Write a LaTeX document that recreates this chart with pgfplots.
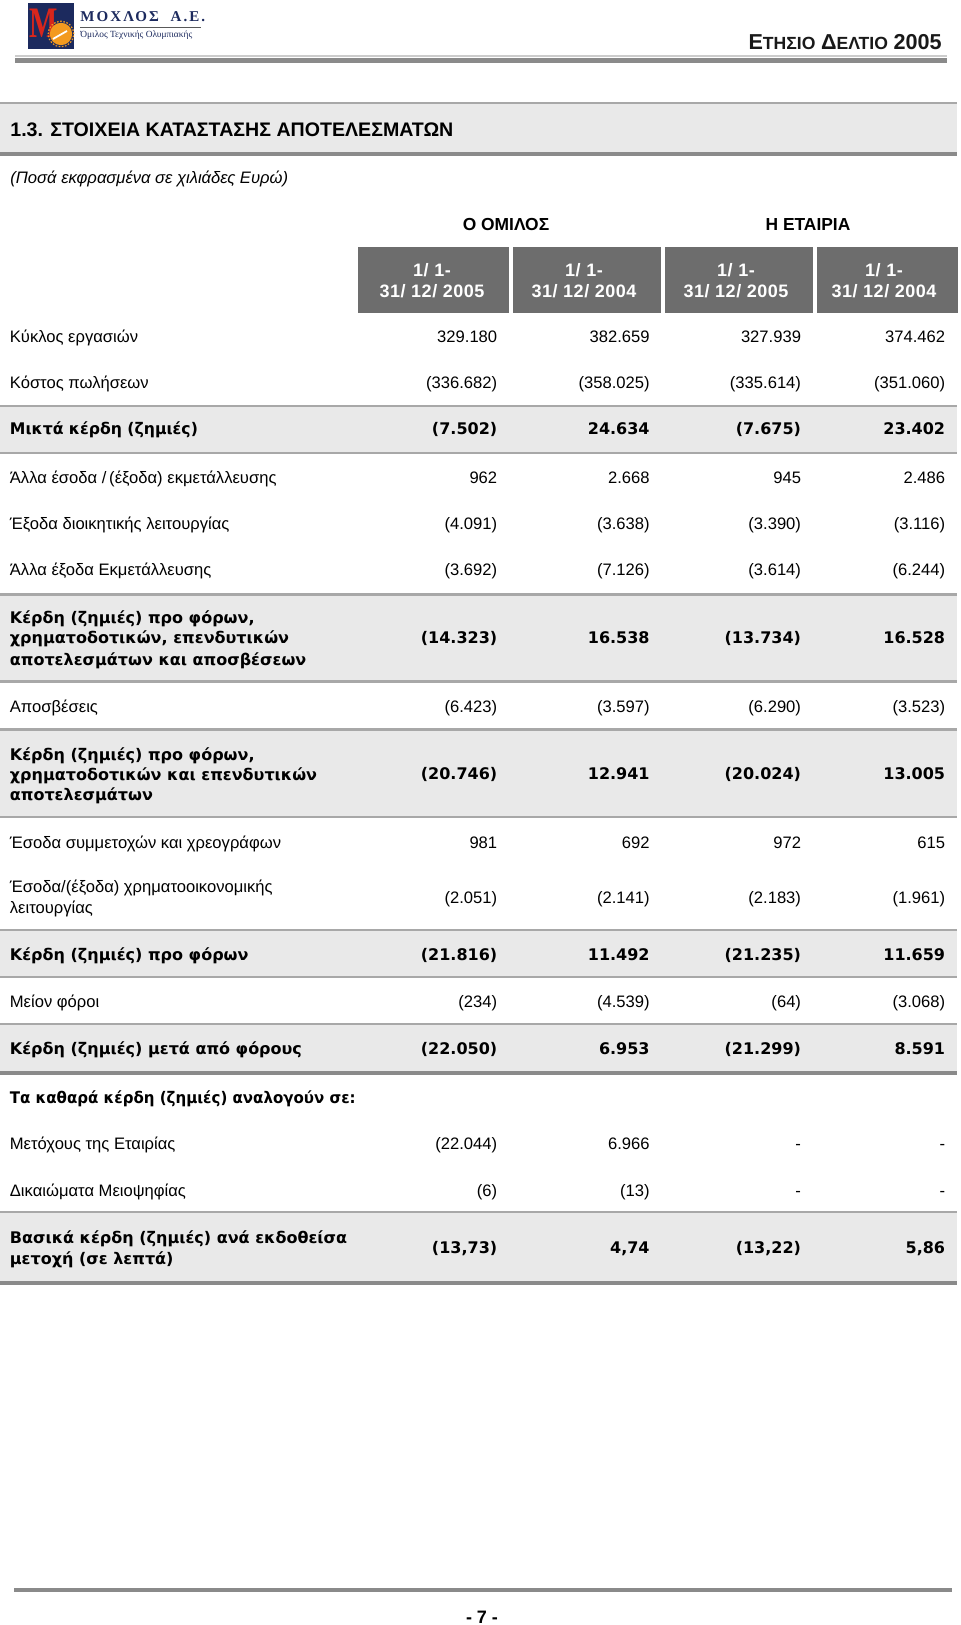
\documentclass[border=0pt]{standalone}
\usepackage{fontspec}
\usepackage{graphicx}
\usepackage{pgfplots}
\usepackage{pgfplotstable}
\pgfplotsset{compat=1.18}
\setmainfont{Liberation Sans}
\newfontfamily\dv{DejaVu Sans}
\newfontfamily\lserif{Liberation Serif}
\newcommand\fs[1]{\fontsize{#1}{#1}\selectfont}
\definecolor{band}{HTML}{E9E9E9}
\definecolor{boxg}{HTML}{6D6D6D}
\definecolor{linel}{HTML}{A8A8A8}
\definecolor{lined}{HTML}{8A8A8A}
\definecolor{navy}{HTML}{1C2A5E}
\definecolor{logored}{HTML}{D8261C}
\definecolor{sun}{HTML}{F39A1F}

\pgfplotstableread{
x y label
497.6 343 329.180
650 343 382.659
801.4 343 327.939
945.5 343 374.462
497.6 388.5 (336.682)
650 388.5 (358.025)
801.4 388.5 (335.614)
945.5 388.5 (351.060)
497.6 484 962
650 484 2.668
801.4 484 945
945.5 484 2.486
497.6 529.5 (4.091)
650 529.5 (3.638)
801.4 529.5 (3.390)
945.5 529.5 (3.116)
497.6 575 (3.692)
650 575 (7.126)
801.4 575 (3.614)
945.5 575 (6.244)
497.6 712 (6.423)
650 712 (3.597)
801.4 712 (6.290)
945.5 712 (3.523)
497.6 848 981
650 848 692
801.4 848 972
945.5 848 615
497.6 903 (2.051)
650 903 (2.141)
801.4 903 (2.183)
945.5 903 (1.961)
497.6 1007.5 (234)
650 1007.5 (4.539)
801.4 1007.5 (64)
945.5 1007.5 (3.068)
497.6 1149.5 (22.044)
650 1149.5 6.966
801.4 1149.5 -
945.5 1149.5 -
497.6 1196 (6)
650 1196 (13)
801.4 1196 -
945.5 1196 -
}\regnums

\pgfplotstableread{
x y label
497.6 435 (7.502)
650 435 24.634
801.4 435 (7.675)
945.5 435 23.402
497.6 643 (14.323)
650 643 16.538
801.4 643 (13.734)
945.5 643 16.528
497.6 779.5 (20.746)
650 779.5 12.941
801.4 779.5 (20.024)
945.5 779.5 13.005
497.6 960 (21.816)
650 960 11.492
801.4 960 (21.235)
945.5 960 11.659
497.6 1054 (22.050)
650 1054 6.953
801.4 1054 (21.299)
945.5 1054 8.591
497.6 1253 (13,73)
650 1253 4,74
801.4 1253 (13,22)
945.5 1253 5,86
}\boldnums

\tikzset{
  lab/.style={anchor=base west, inner sep=0pt, font=\fs{8.3}},
  blab/.style={anchor=base west, inner sep=0pt, font=\dv\bfseries\fs{8}},
  hdr/.style={anchor=base, inner sep=0pt, text=white, font=\bfseries\fs{9}\addfontfeatures{LetterSpace=3}}
}
\newcommand\hrect[4]{\fill[#4] (axis cs:#1,#2) rectangle (axis cs:957,#3);}

\begin{document}
\begin{tikzpicture}
\begin{axis}[width=480pt, height=812.5pt, scale only axis,
  xmin=0, xmax=960, ymin=0, ymax=1625, y dir=reverse,
  hide axis, clip=false]
% background / bounding box
\fill[white] (axis cs:0,0) rectangle (axis cs:960,1625);

% ---- logo ----
\fill[navy] (axis cs:28,3) rectangle (axis cs:74,49);
\node[anchor=base west, inner sep=0pt, text=logored, font=\lserif\bfseries\fs{15}]
  at (axis cs:29,38) {\scalebox{1}[1.45]{M}};
\fill[sun] (axis cs:61,34) circle[radius=5.6pt];
\draw[sun, line width=0.6pt, dash pattern=on 0.8pt off 0.8pt] (axis cs:61,34) circle[radius=6.4pt];
\draw[white, line width=0.9pt] (axis cs:53,39) -- (axis cs:67,31);
\node[anchor=base west, inner sep=0pt, text=navy, font=\lserif\bfseries\fs{7.5}\addfontfeatures{LetterSpace=14}]
  at (axis cs:80,22) {ΜΟΧΛΟΣ \ Α.Ε.};
\draw[gray!70!black, line width=0.5pt] (axis cs:80,27.5) -- (axis cs:201,27.5);
\node[anchor=base west, inner sep=0pt, text=navy, font=\lserif\fs{4.7}]
  at (axis cs:80,38) {Όμιλος Τεχνικής Ολυμπιακής};

% ---- header right ----
\node[anchor=base east, inner sep=0pt, text=black!90, font=\bfseries]
  at (axis cs:942,50) {{\fs{10.8}Ε}{\fs{8.8}ΤΗΣΙΟ} {\fs{10.8}Δ}{\fs{8.8}ΕΛΤΙΟ} {\fs{10.8}2005}};
\fill[black!20] (axis cs:15,55.5) rectangle (axis cs:947,57);
\fill[lined] (axis cs:15,58) rectangle (axis cs:947,63);

% ---- title band ----
\hrect{0}{103}{153}{band}
\hrect{0}{102.5}{104}{linel}
\hrect{0}{152}{156}{lined}
\node[anchor=base west, inner sep=0pt, font=\bfseries\fs{9.8}]
  at (axis cs:10,137) {1.3. ΣΤΟΙΧΕΙΑ ΚΑΤΑΣΤΑΣΗΣ ΑΠΟΤΕΛΕΣΜΑΤΩΝ};
\node[anchor=base west, inner sep=0pt, font=\itshape\fs{8.3}]
  at (axis cs:10,184) {(Ποσά εκφρασμένα σε χιλιάδες Ευρώ)};

% ---- column headers ----
\node[anchor=base, inner sep=0pt, font=\bfseries\fs{8.7}] at (axis cs:506,231) {Ο ΟΜΙΛΟΣ};
\node[anchor=base, inner sep=0pt, font=\bfseries\fs{8.7}] at (axis cs:808,231) {Η ΕΤΑΙΡΙΑ};
\fill[boxg] (axis cs:358,247) rectangle (axis cs:509,313);
\fill[boxg] (axis cs:513,247) rectangle (axis cs:661,313);
\fill[boxg] (axis cs:665,247) rectangle (axis cs:813,313);
\fill[boxg] (axis cs:817,247) rectangle (axis cs:958,313);
\node[hdr] at (axis cs:432,277) {1/ 1-};
\node[hdr] at (axis cs:432,297.5) {31/ 12/ 2005};
\node[hdr] at (axis cs:584,277) {1/ 1-};
\node[hdr] at (axis cs:584,297.5) {31/ 12/ 2004};
\node[hdr] at (axis cs:736,277) {1/ 1-};
\node[hdr] at (axis cs:736,297.5) {31/ 12/ 2005};
\node[hdr] at (axis cs:884,277) {1/ 1-};
\node[hdr] at (axis cs:884,297.5) {31/ 12/ 2004};

% ---- shaded bands and rules ----
\hrect{0}{406}{453}{band}
\hrect{0}{405}{407}{linel}
\hrect{0}{452}{454}{linel}
\hrect{0}{594}{681}{band}
\hrect{0}{593}{595.5}{linel}
\hrect{0}{680}{682.5}{linel}
\hrect{0}{729}{817}{band}
\hrect{0}{728}{730.5}{linel}
\hrect{0}{815.5}{818}{linel}
\hrect{0}{930}{977}{band}
\hrect{0}{928.5}{930.5}{linel}
\hrect{0}{975.5}{977.5}{linel}
\hrect{0}{1024}{1073}{band}
\hrect{0}{1022.5}{1024.5}{linel}
\hrect{0}{1071}{1075}{lined}
\hrect{0}{1212}{1282}{band}
\hrect{0}{1210.5}{1212.5}{linel}
\hrect{0}{1281}{1285}{lined}

% ---- row labels ----
\node[lab] at (axis cs:9.5,343) {Κύκλος εργασιών};
\node[lab] at (axis cs:9.5,388.5) {Κόστος πωλήσεων};
\node[blab] at (axis cs:9.5,435) {\scalebox{0.98}[1]{Μικτά κέρδη (ζημιές)}};
\node[lab] at (axis cs:9.5,484) {Άλλα έσοδα /\,(έξοδα) εκμετάλλευσης};
\node[lab] at (axis cs:9.5,529.5) {Έξοδα διοικητικής λειτουργίας};
\node[lab] at (axis cs:9.5,575) {Άλλα έξοδα Εκμετάλλευσης};
\node[blab] at (axis cs:9.5,623) {Κέρδη (ζημιές) προ φόρων,};
\node[blab] at (axis cs:9.5,643.5) {χρηματοδοτικών, επενδυτικών};
\node[blab] at (axis cs:9.5,665) {αποτελεσμάτων και αποσβέσεων};
\node[lab] at (axis cs:9.5,712) {Αποσβέσεις};
\node[blab] at (axis cs:9.5,760) {Κέρδη (ζημιές) προ φόρων,};
\node[blab] at (axis cs:9.5,780) {χρηματοδοτικών και επενδυτικών};
\node[blab] at (axis cs:9.5,800) {αποτελεσμάτων};
\node[lab] at (axis cs:9.5,848) {Έσοδα συμμετοχών και χρεογράφων};
\node[lab] at (axis cs:9.5,892) {Έσοδα/(έξοδα) χρηματοοικονομικής};
\node[lab] at (axis cs:9.5,913) {λειτουργίας};
\node[blab] at (axis cs:9.5,960) {Κέρδη (ζημιές) προ φόρων};
\node[lab] at (axis cs:9.5,1007.5) {Μείον φόροι};
\node[blab] at (axis cs:9.5,1054) {Κέρδη (ζημιές) μετά από φόρους};
\node[blab] at (axis cs:9.5,1103) {\scalebox{0.94}[1]{Τα καθαρά κέρδη (ζημιές) αναλογούν σε:}};
\node[lab] at (axis cs:9.5,1149.5) {Μετόχους της Εταιρίας};
\node[lab] at (axis cs:9.5,1196) {Δικαιώματα Μειοψηφίας};
\node[blab] at (axis cs:9.5,1243) {Βασικά κέρδη (ζημιές) ανά εκδοθείσα};
\node[blab] at (axis cs:9.5,1264) {μετοχή (σε λεπτά)};

% ---- numbers ----
\addplot[draw=none, mark=none, forget plot, nodes near coords, point meta=explicit symbolic,
  nodes near coords style={anchor=base east, inner sep=0pt, font=\fs{8.3}}]
  table[x=x, y=y, meta=label] {\regnums};
\addplot[draw=none, mark=none, forget plot, nodes near coords, point meta=explicit symbolic,
  nodes near coords style={anchor=base east, inner sep=0pt, font=\dv\bfseries\fs{8}}]
  table[x=x, y=y, meta=label] {\boldnums};

% ---- footer ----
\fill[lined] (axis cs:14,1588) rectangle (axis cs:952,1592);
\node[anchor=base, inner sep=0pt, font=\bfseries\fs{9}] at (axis cs:482,1623) {- 7 -};
\end{axis}
\end{tikzpicture}
\end{document}
